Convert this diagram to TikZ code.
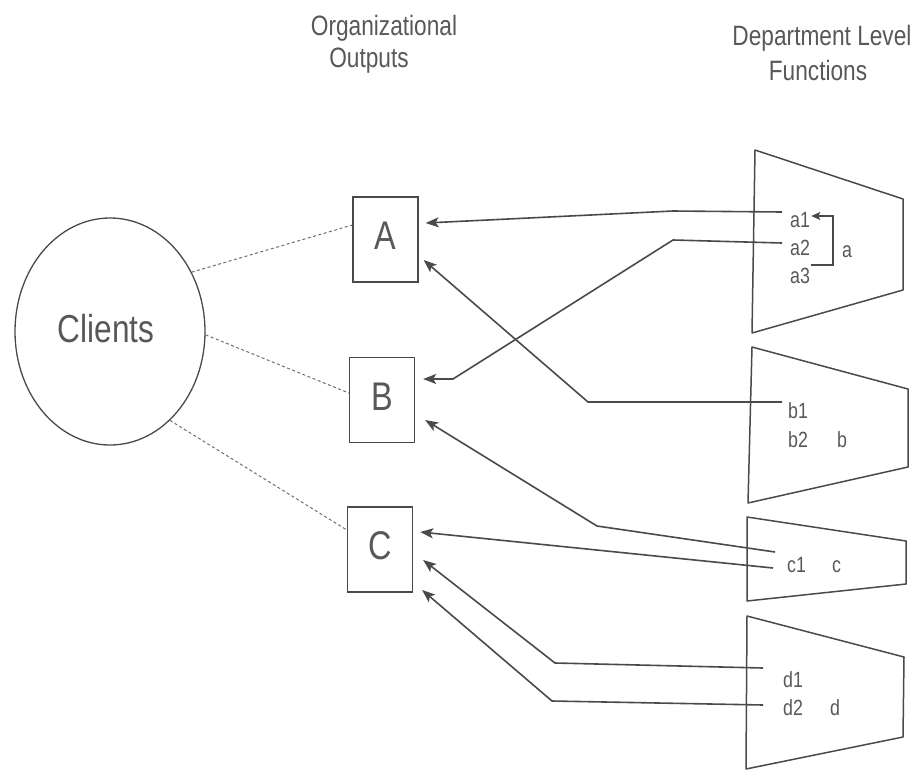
\documentclass[tikz,border=0pt]{standalone}
\usepackage{fontspec}
\setmainfont[FakeStretch=0.81]{Liberation Sans}
\usetikzlibrary{arrows.meta,shapes.geometric,calc}
\definecolor{ink}{HTML}{4A4A4A}
\definecolor{txt}{HTML}{585858}

\begin{document}
\begin{tikzpicture}[x=1pt,y=-1pt,
  head/.style={font=\fontsize{28}{32}\selectfont, text=txt, anchor=base, inner sep=0pt},
  outbox/.style={draw=ink, line width=1.3pt, minimum width=65pt, minimum height=85pt,
    inner sep=0pt, text height=29pt, text depth=9pt, font=\fontsize{40}{44}\selectfont, text=txt},
  fn/.style={font=\fontsize{22}{24}\selectfont, text=txt, anchor=base west, inner sep=0pt},
  link/.style={draw=ink, line width=1.6pt, -{Stealth[length=13pt,width=10pt,inset=3pt]}},
  hook/.style={draw=ink, line width=1.4pt, -{Stealth[length=9pt,width=8pt,inset=2pt]}},
  tie/.style={draw=ink!80, line width=1pt, dash pattern=on 3pt off 2.5pt},
  dept/.style={draw=ink, line width=1.5pt, line join=round}]
\useasboundingbox (0,0) rectangle (924,774);

% column headings
\node[head] (org1) at (384,35) {Organizational};
\node[head] (org2) at (369,67) {Outputs};
\node[head] (dep1) at (822,45) {Department Level};
\node[head] (dep2) at (818,80) {Functions};

% clients
\node[ellipse, draw=ink, line width=1.3pt, minimum width=190pt, minimum height=227pt, inner sep=0pt]
  (clients) at (110,331.5) {};
\node[anchor=base, inner sep=0pt, font=\fontsize{39}{44}\selectfont, text=txt] (clientslbl) at (106,342) {Clients};

% organizational outputs
\node[outbox] (A) at (385.5,239.5) {A};
\node[outbox] (B) at (382,400) {B};
\node[outbox] (C) at (380,549.5) {C};

\draw[tie] (clients.36) -- ($(A.west)+(0,-14.5)$);
\draw[tie] (clients.-2) -- ($(B.west)+(0,-7)$);
\draw[tie] (clients.-56) -- ($(C.west)+(0,-19.5)$);

% department level functions
\draw[dept] (755,150) -- (903,199) -- (903,290) -- (752,333) -- cycle;
\draw[dept] (752,347) -- (908,389) -- (908,467) -- (748,503) -- cycle;
\draw[dept] (747,517) -- (906,541) -- (906,584) -- (747,601) -- cycle;
\draw[dept] (747,616) -- (904,657) -- (903,737) -- (746,769) -- cycle;

\node[fn] (a1) at (790,227) {a1};
\node[fn] (a2) at (790,255) {a2};
\node[fn] (a3) at (790,283) {a3};
\node[fn] (a)  at (842,257) {a};
\node[fn] (b1) at (788,418) {b1};
\node[fn] (b2) at (788,447) {b2};
\node[fn] (b)  at (837,447) {b};
\node[fn] (c1) at (787,572) {c1};
\node[fn] (c)  at (832,572) {c};
\node[fn] (d1) at (783,687) {d1};
\node[fn] (d2) at (783,715) {d2};
\node[fn] (d)  at (830,715) {d};

% a3 feeds back into a1
\draw[hook] ($(a3.base east)+(1,-18)$) -| (833,216) -- ($(a1.base east)+(1,-11)$);

% links from functions to outputs
\draw[link] ($(a1.base west)+(-8,-15)$) -- (673,211) -- ($(A.east)+(7,-16.5)$);
\draw[link] ($(a2.base west)+(-8,-12)$) -- (673,240) -- (453,379) -- ($(B.east)+(8,-21)$);
\draw[link] ($(b1.base west)+(-6,-16)$) -- (588,402) -- ($(A.east)+(5,20.5)$);
\draw[link] ($(c1.base west)+(-12,-20)$) -- (597,526) -- ($(B.east)+(10,20)$);
\draw[link] ($(c1.base west)+(-14,-4)$) -- ($(C.east)+(7,-17.5)$);
\draw[link] ($(d1.base west)+(-20,-19)$) -- (555,663) -- ($(C.east)+(10,10.5)$);
\draw[link] ($(d2.base west)+(-20,-10)$) -- (552,701) -- ($(C.east)+(9,40.5)$);
\end{tikzpicture}
\end{document}
